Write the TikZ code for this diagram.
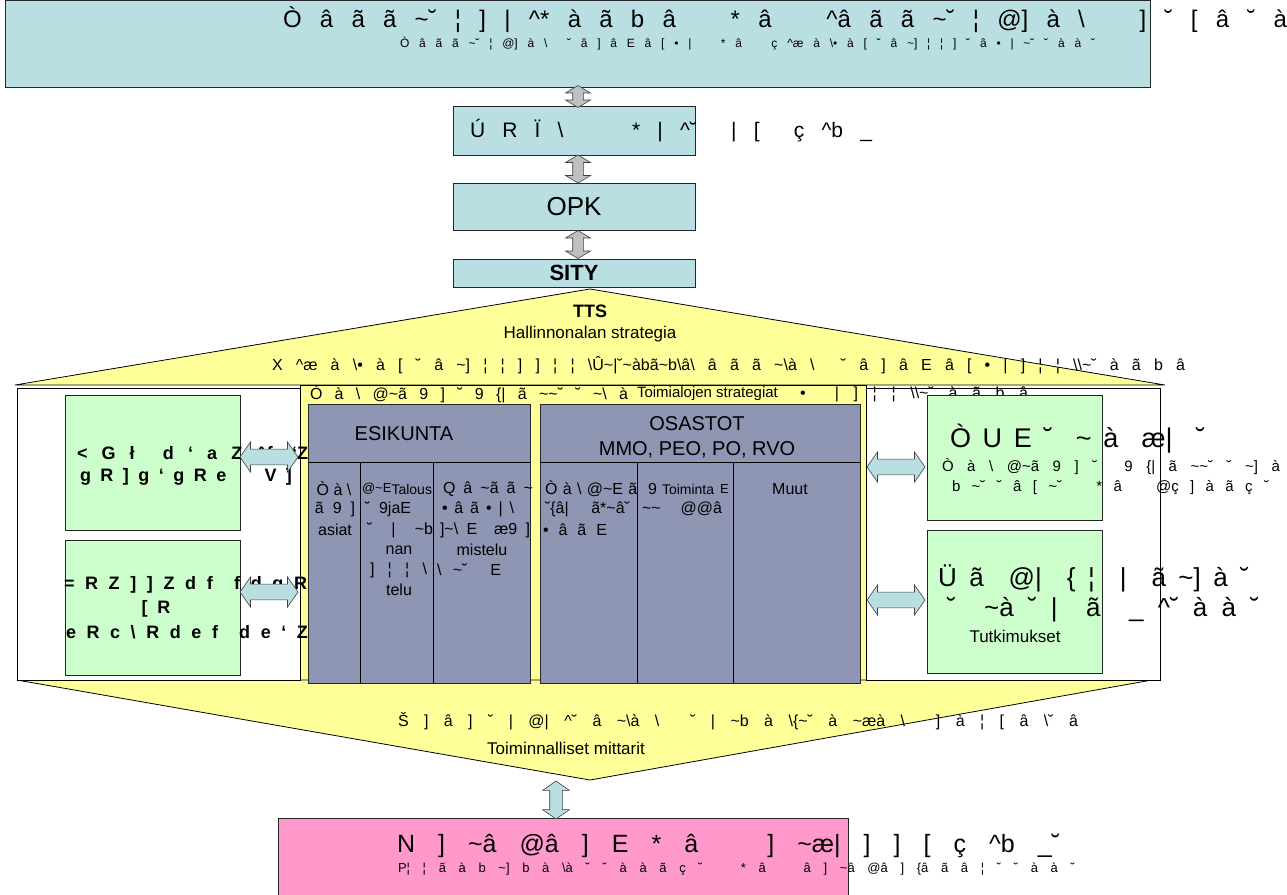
\documentclass[tikz,border=0pt]{standalone}
\usepackage{fontspec}
\setmainfont{Liberation Sans}
\usetikzlibrary{shapes.arrows}
\newcommand\Tl{\char"7E\relax}
\newcommand\Bs{\char"5C\relax}
\newcommand\Ca{\char"5E\relax}
\newcommand\Us{\char"5F\relax}
\newcommand\Lb{\char"7B\relax}
\newcommand\Bq{\char"60\relax}
\newcommand\gs[2]{\hbox to #1pt{\spaceskip=0.1em plus 1fil\relax #2}}
\newcommand\fz[1]{\fontsize{#1}{#1}\selectfont}
\definecolor{topblue}{RGB}{186,223,226}
\definecolor{arrgray}{RGB}{192,192,192}
\definecolor{grn}{RGB}{204,255,204}
\definecolor{yel}{RGB}{255,255,153}
\definecolor{slate}{RGB}{142,150,180}
\definecolor{pinkf}{RGB}{255,153,204}
\begin{document}
\begin{tikzpicture}[x=1pt,y=-1pt,
  every node/.style={inner sep=0pt,outer sep=0pt},
  box/.style={draw=black!85,line width=0.8pt,anchor=north west},
  bluebox/.style={box,fill=topblue},
  greenbox/.style={box,fill=grn},
  slatebox/.style={box,fill=slate},
  txt/.style={anchor=west},
  grayarrow/.style={double arrow,draw=black!75,fill=arrgray,line width=0.6pt,
     inner xsep=0pt,inner ysep=5pt,minimum width=20pt,double arrow tip angle=118,rotate=90},
  bluearrow/.style={double arrow,draw=black!75,fill=topblue,line width=0.6pt,
     inner xsep=0pt,inner ysep=7.5pt,minimum width=30pt,double arrow tip angle=110},
  yelshape/.style={fill=yel,draw=black,line width=0.8pt}]
\useasboundingbox (0,0) rectangle (1287,894);
\fill[white] (0,0) rectangle (1287,894);
% ---- top chain
\node[bluebox,minimum width=1145,minimum height=87] (top) at (5,0) {};
\node[bluebox,minimum width=242,minimum height=49] (vrk) at (453,106) {};
\node[bluebox,minimum width=242,minimum height=47] (opk) at (453,183) {};
\node[font=\fz{26}] (opkt) at (opk.center) {OPK};
\node[bluebox,minimum width=242,minimum height=28] (sity) at (453,259) {};
\node[font=\bfseries\fz{22}] (sityt) at (sity.center) {SITY};
\node[txt,font=\fz{24}] (t1) at (283,20) {\gs{1004}{Ò â ã ã \Tl ˘ ¦ ] | \Ca * à ã b â \ \ * â \ \ \Ca â ã ã \Tl ˘ ¦ @] à \Bs \ \ \ ] ˘ [ â ˘ à}};
\node[txt,font=\fz{12}] (t2) at (400,44) {\gs{695}{Ò â ã ã \Tl ˘ ¦ @] à \Bs \ \ ˘ â ] â E â [ • | \ \ * â \ \ ç \Ca æ à \Bs • à [ ˘ â \Tl ] ¦ ¦ ] ˘ â • | \Tl ˘ ˘ à à ˘}};
\node[txt,font=\fz{21}] (t3) at (470,131) {\gs{402}{Ú R Ï \Bs \ \ \ \ * | \Ca ˘ \ | [ \ ç \Ca b \Us}};
\path (vrk.north) -- (vrk.north |- top.south) coordinate[midway] (m1);
\path (opk.north) -- (opk.north |- vrk.south) coordinate[midway] (m2);
\path (sity.north) -- (sity.north |- opk.south) coordinate[midway] (m3);
\node[grayarrow,minimum height=22pt] (a1) at ([xshift=4pt]m1) {};
\node[grayarrow,minimum height=28pt] (a2) at ([xshift=4pt]m2) {};
\node[grayarrow,minimum height=28pt] (a3) at ([xshift=4pt]m3) {};
% ---- yellow shape
\filldraw[yelshape] (590,289) -- (1165,385) -- (15,385) -- cycle;
\filldraw[yelshape] (300,385) rectangle (866,680);
\filldraw[yelshape] (17,680) -- (1152,680) -- (590,780) -- cycle;
\filldraw[fill=white,draw=black,line width=0.8pt] (17,388) rectangle (300,680);
\filldraw[fill=white,draw=black,line width=0.8pt] (866,388) rectangle (1160,680);
\node[font=\bfseries\fz{18}] (tts) at (590,311) {TTS};
\node[font=\fz{17}] (hal) at (590,334) {Hallinnonalan strategia};
\node[txt,font=\fz{16}] (s1) at (272,365) {\gs{913}{X \Ca æ à \Bs • à [ ˘ â \Tl ] ¦ ¦ ] ] ¦ ¦ \Bs Û\Tl|˘\Tl àbã\Tl b\Bs â\Bs \ â ã ã \Tl \Bs à \Bs \ \ ˘ â ] â E â [ • | ] ¦ ¦ \Bs \Bs \Tl ˘ à ã b â}};
\node[txt,font=\fz{16}] (s2a) at (310,394) {\gs{318}{Ò à \Bs \ @\Tl ã 9 ] ˘ 9 \Lb | ã \Tl \Tl ˘ ˘ \Tl \Bs \ à}};
\node[txt,font=\fz{15}] (s2b) at (637,394) {Toimialojen strategiat};
\node[txt,font=\fz{16}] (s2c) at (800,394) {\gs{228}{• \ | ] ¦ ¦ \Bs \Bs \Tl ˘ à ã b â}};
% ---- left green boxes
\node[greenbox,minimum width=175,minimum height=135] (lg1) at (65,395) {};
\node[greenbox,minimum width=175,minimum height=135] (lg2) at (65,540) {};
\node[txt,font=\bfseries\fz{18}] (l1a) at (77,453) {\gs{231}{< G ł \ d \Bq \ a Z \Ca f \Bs \Bq Z}};
\node[txt,font=\bfseries\fz{18}] (l1b) at (80,477) {\gs{212}{g R ] g \Bq \ g R e \ \ \ V ]}};
\node[txt,font=\bfseries\fz{18}] (l2a) at (64,585) {\gs{243}{= R Z ] ] Z d f \ f d g R}};
\node[font=\bfseries\fz{18}] (l2b) at (156,609) {[ \ R};
\node[txt,font=\bfseries\fz{18}] (l2c) at (66,632) {\gs{242}{e R c \Bs \ R d e f \ d e \Bq \ Z}};
\node[bluearrow,minimum height=58] (ha1) at (269,457) {};
\node[bluearrow,minimum height=58] (ha2) at (269,592) {};
% ---- slate boxes
\node[slatebox,minimum width=222,minimum height=279] (esi) at (308,404) {};
\node[slatebox,minimum width=320,minimum height=279] (osa) at (540,404) {};
\draw[line width=0.8pt] (308,462) -- (530,462) (360,462) -- (360,683) (433,462) -- (433,683);
\draw[line width=0.8pt] (540,462) -- (860,462) (637,462) -- (637,683) (733,462) -- (733,683);
\node[font=\fz{20}] (esit) at (404,434) {ESIKUNTA};
\node[font=\fz{20}] (osat1) at (697,424) {OSASTOT};
\node[font=\fz{20}] (osat2) at (697,450) {MMO, PEO, PO, RVO};
\begin{scope}[every node/.append style={font=\fz{16}}]
\node (c1a) at (334,489) {Ò à \Bs};
\node (c1b) at (335,509) {ã \ 9 \ ]};
\node (c1c) at (335,530) {asiat};
\node[txt,font=\fz{13}] (c2a2) at (362,489) {@\Tl E};
\node[anchor=east,font=\fz{14}] (c2a) at (432,489) {Talous};
\node (c2b) at (388,509) {˘ \ 9jaE};
\node[txt] (c2c) at (367,530) {\gs{66}{˘ | \Tl b}};
\node (c2d) at (399,550) {nan};
\node[txt] (c2e) at (370,570) {\gs{57}{] ¦ ¦ \Bs}};
\node (c2f) at (399,590) {telu};
\node[txt] (c3a) at (443,489) {\gs{90}{Q â \Tl ã ã \Tl}};
\node[txt] (c3b) at (442,509) {\gs{72}{• â ã • | \Bs}};
\node[txt] (c3c) at (440,530) {\gs{90}{]\Tl \Bs \ E \ æ9 ]}};
\node (c3d) at (482,550) {mistelu};
\node[txt] (c3e) at (437,570) {\gs{64}{\Bs \ \Tl ˘ \ E}};
\node[txt] (o1a) at (545,489) {\gs{112}{Ò à \Bs \ @\Tl E ã \ 9}};
\node[txt] (o1b) at (545,509) {\gs{85}{˘\Lb â| \ ã*\Tl â˘}};
\node[txt] (o1c) at (543,530) {\gs{64}{• â ã E}};
\node[txt,font=\fz{14}] (o2a) at (662,489) {Toiminta};
\node[txt,font=\fz{13}] (o2a2) at (720,489) {E};
\node[txt] (o2b) at (642,509) {\gs{80}{\Tl \Tl \ @@â}};
\node (o3a) at (790,489) {Muut};
\end{scope}
% ---- right green boxes
\node[greenbox,minimum width=175,minimum height=125] (rg1) at (927,395) {};
\node[greenbox,minimum width=175,minimum height=143] (rg2) at (927,530) {};
\node[txt,font=\fz{27}] (r1a) at (950,439) {\gs{255}{Ò U E ˘ \ \Tl \ à \ æ| \ ˘}};
\node[txt,font=\fz{15}] (r1b) at (942,467) {\gs{338}{Ò à \Bs \ @\Tl ã 9 ] ˘ \ 9 \Lb | ã \Tl \Tl ˘ ˘ \Tl ] à}};
\node[txt,font=\fz{15}] (r1c) at (952,488) {\gs{317}{b \Tl ˘ ˘ â [ \Tl ˘ \ \ * â \ \ @ç ] à ã ç ˘}};
\node[txt,font=\fz{26}] (r2a) at (938,578) {\gs{311}{Ü ã \ @| \ \Lb \ ¦ \ | \ ã \Tl ] à ˘}};
\node[txt,font=\fz{26}] (r2b) at (947,610) {\gs{312}{˘ \ \Tl à ˘ | \ ã \ \Us \ \Ca ˘ à à ˘}};
\node[font=\fz{17}] (r2c) at (1015,636) {Tutkimukset};
\node[bluearrow,minimum height=58] (ha3) at (896,467) {};
\node[bluearrow,minimum height=58] (ha4) at (896,600) {};
% ---- bottom
\node[txt,font=\fz{16}] (b1) at (398,721) {\gs{680}{Š ] â ] ˘ | @| \Ca ˘ â \Tl \Bs à \Bs \ \ ˘ | \Tl b à \Bs \Lb \Tl ˘ à \Tl æà \Bs \ \ ] à ¦ [ â \Bs ˘ â}};
\node[font=\fz{17}] (b2) at (566,748) {Toiminnalliset mittarit};
\node[box,fill=pinkf,minimum width=570,minimum height=80] (pink) at (278,818) {};
\node[bluearrow,inner ysep=6pt,minimum width=24pt,minimum height=38,rotate=90] (va) at (556,800) {};
\node[txt,font=\fz{25}] (p1) at (397,846) {\gs{663}{N ] \Tl â @â ] E * â \ \ ] \Tl æ| ] ] [ ç \Ca b \Us ˘}};
\node[txt,font=\fz{13}] (p2) at (398,869) {\gs{677}{P¦ ¦ ã à b \Tl ] b à \Bs à ˘ ˘ à à ã ç ˘ \ \ * â \ \ â ] \Tl â @â ] \Lb â ã â ¦ ˘ ˘ à à ˘}};
\end{tikzpicture}
\end{document}
